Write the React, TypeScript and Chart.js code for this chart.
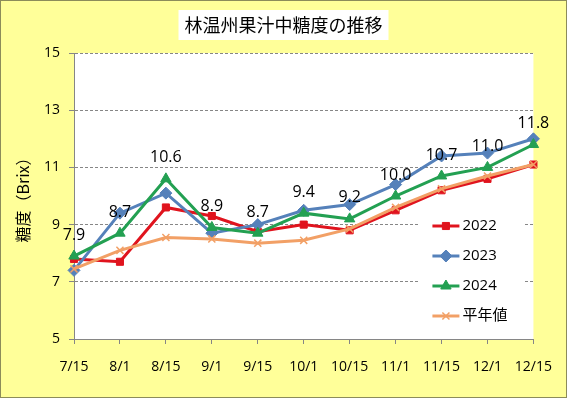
import { useEffect, useRef } from "react";
import { Chart, registerables } from "chart.js";
import { drawPoint } from "chart.js/helpers";

Chart.register(...registerables);

const categories = ["7/15", "8/1", "8/15", "9/1", "9/15", "10/1", "10/15", "11/1", "11/15", "12/1", "12/15"];
const values2022 = [7.8, 7.7, 9.6, 9.3, 8.75, 9.0, 8.8, 9.5, 10.2, 10.6, 11.1];
const values2023 = [7.4, 9.4, 10.1, 8.7, 9.0, 9.5, 9.7, 10.4, 11.4, 11.5, 12.0];
const values2024 = [7.9, 8.7, 10.6, 8.9, 8.7, 9.4, 9.2, 10.0, 10.7, 11.0, 11.8];
const valuesNormal = [7.45, 8.1, 8.55, 8.5, 8.35, 8.45, 8.85, 9.6, 10.25, 10.7, 11.1];
const seriesNames = ["2022", "2023", "2024", "平年値"];
const yMin = 5;
const yMax = 15;
const yStep = 2;
const titleText = "林温州果汁中糖度の推移";
const yTitleText = "糖度（Brix）";

const COLORS = ["#E0141E", "#5581BA", "#23A052", "#F2A066"];
const STYLES = ["rect", "rectRot", "triangle", "crossRot"];
const RADII = [5, 6, 6, 5];
const FONT = "'Open Sans', 'Noto Sans CJK JP', sans-serif";
const CJK = "'Noto Sans CJK JP', sans-serif";

const bgPlugin = {
  id: "bgPlugin",
  beforeDraw(chart: any) {
    const { ctx, width, height, chartArea } = chart;
    ctx.save();
    ctx.fillStyle = "#FFFF99";
    ctx.fillRect(0, 0, width, height);
    ctx.strokeStyle = "#8C8C5A";
    ctx.lineWidth = 1;
    ctx.strokeRect(0.5, 0.5, width - 1, height - 1);
    ctx.fillStyle = "#FFFFFF";
    ctx.fillRect(chartArea.left, chartArea.top, chartArea.right - chartArea.left, chartArea.bottom - chartArea.top);
    // title
    ctx.font = `18px ${CJK}`;
    const tw = ctx.measureText(titleText).width;
    const cx = width / 2;
    const cy = 25;
    ctx.fillStyle = "#FFFFFF";
    ctx.fillRect(cx - tw / 2 - 6, cy - 15, tw + 12, 30);
    ctx.fillStyle = "#000000";
    ctx.textAlign = "center";
    ctx.textBaseline = "middle";
    ctx.fillText(titleText, cx, cy);
    ctx.restore();
  },
};

const legendPlugin = {
  id: "boxLegend",
  beforeDatasetsDraw(chart: any) {
    const { ctx, chartArea } = chart;
    const left = chartArea.right - 115;
    const top = chartArea.bottom - 134;
    ctx.save();
    ctx.fillStyle = "#FFFFFF";
    ctx.fillRect(left, top, 106, 130);
    seriesNames.forEach((name, i) => {
      const y = top + 21 + i * 30;
      const x0 = left + 14;
      const x1 = left + 41;
      ctx.strokeStyle = COLORS[i];
      ctx.lineWidth = 3;
      ctx.setLineDash([]);
      ctx.beginPath();
      ctx.moveTo(x0, y);
      ctx.lineTo(x1, y);
      ctx.stroke();
      ctx.fillStyle = COLORS[i];
      ctx.strokeStyle = COLORS[i];
      ctx.lineWidth = i === 3 ? 1.5 : 1;
      drawPoint(ctx, { pointStyle: STYLES[i], radius: RADII[i], rotation: 0, borderWidth: i === 3 ? 1.5 : 1 } as any, (x0 + x1) / 2, y);
      ctx.fillStyle = "#000000";
      ctx.font = `15px ${FONT}`;
      ctx.textAlign = "left";
      ctx.textBaseline = "middle";
      ctx.fillText(name, x1 + 3, y);
    });
    ctx.restore();
  },
};

const labelPlugin = {
  id: "valueLabels",
  afterDatasetsDraw(chart: any) {
    const { ctx } = chart;
    const meta = chart.getDatasetMeta(2);
    ctx.save();
    ctx.fillStyle = "#000000";
    ctx.font = `16px ${FONT}`;
    ctx.textAlign = "center";
    ctx.textBaseline = "middle";
    meta.data.forEach((pt: any, i: number) => {
      ctx.fillText(values2024[i].toFixed(1), pt.x, pt.y - 21);
    });
    ctx.restore();
  },
};

export default function App() {
  const ref = useRef<HTMLCanvasElement | null>(null);
  useEffect(() => {
    if (!ref.current) return;
    const all = [values2022, values2023, values2024, valuesNormal];
    const chart = new Chart(ref.current, {
      type: "line",
      data: {
        labels: categories,
        datasets: all.map((vals, i) => ({
          label: seriesNames[i],
          data: vals,
          borderColor: COLORS[i],
          backgroundColor: COLORS[i],
          borderWidth: 3,
          pointStyle: STYLES[i] as any,
          pointRadius: RADII[i],
          pointBorderWidth: i === 3 ? 1.5 : 1,
          pointBorderColor: COLORS[i],
          pointBackgroundColor: COLORS[i],
          tension: 0,
          fill: false,
          order: 4 - i,
        })),
      },
      options: {
        responsive: false,
        animation: false,
        devicePixelRatio: 1,
        layout: { padding: { top: 53, right: 27, bottom: 0, left: 0 } },
        plugins: {
          legend: { display: false },
          title: { display: false },
          tooltip: { enabled: false },
        },
        scales: {
          x: {
            type: "category",
            offset: false,
            afterFit(scale: any) {
              scale.height = 59;
            },
            grid: {
              drawOnChartArea: false,
              drawTicks: true,
              tickLength: 5,
              color: "#868686",
            },
            border: { display: true, color: "#868686", width: 1 },
            ticks: {
              color: "#000000",
              font: { family: FONT, size: 14 },
              padding: 15,
              maxRotation: 0,
              autoSkip: false,
            },
          },
          y: {
            min: yMin,
            max: yMax,
            afterFit(scale: any) {
              scale.width = 74;
            },
            ticks: {
              stepSize: yStep,
              color: "#000000",
              font: { family: FONT, size: 14 },
              padding: 9,
            },
            grid: {
              color: "#868686",
              tickLength: 5,
              tickBorderDash: [],
            },
            border: { display: true, color: "#868686", width: 1, dash: [3, 2] },
            title: {
              display: true,
              text: yTitleText,
              color: "#000000",
              font: { family: CJK, size: 16 },
              padding: { top: 13, bottom: 0 },
            },
          },
        },
      },
      plugins: [bgPlugin, legendPlugin, labelPlugin],
    });
    return () => chart.destroy();
  }, []);
  return (
    <div style={{ position: "fixed", left: 0, top: 0, width: 567, height: 398 }}>
      <canvas ref={ref} width={567} height={398} style={{ width: 567, height: 398, display: "block" }} />
    </div>
  );
}
